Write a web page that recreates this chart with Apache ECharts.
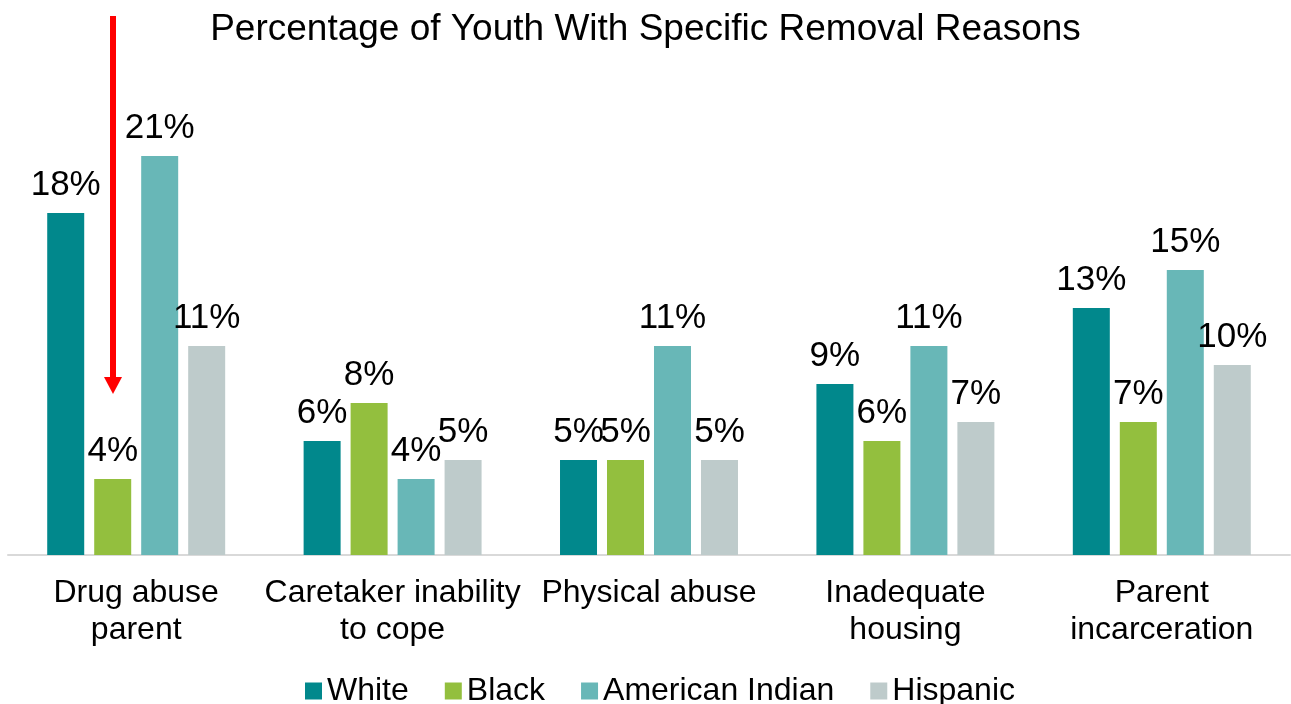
<!DOCTYPE html>
<html>
<head>
<meta charset="utf-8">
<script src="https://cdn.jsdelivr.net/npm/echarts@6/dist/echarts.min.js"></script>
<style>
  html, body { margin: 0; padding: 0; background: #fff; }
  #chart { width: 1291px; height: 704px; }
</style>
</head>
<body>
<div id="chart"></div>
<script>
  // categories and series (percent values)
  const categories = ['Drug abuse\nparent', 'Caretaker inability\nto cope', 'Physical abuse', 'Inadequate\nhousing', 'Parent\nincarceration'];
  const white = [18, 6, 5, 9, 13];
  const black = [4, 8, 5, 6, 7];
  const americanIndian = [21, 4, 11, 11, 15];
  const hispanic = [11, 5, 5, 7, 10];

  const seriesNames = ['White', 'Black', 'American Indian', 'Hispanic'];
  const seriesData = [white, black, americanIndian, hispanic];
  const colors = ['#01888C', '#93BF3E', '#68B7B7', '#BECBCB'];

  const font = 'Liberation Sans, Arial, sans-serif';

  let myChart = echarts.init(document.getElementById('chart'));
  let option = {
    animation: false,
    color: colors,
    textStyle: { fontFamily: font },
    title: {
      text: 'Percentage of Youth With Specific Removal Reasons',
      left: 'center',
      top: 6,
      textStyle: { fontSize: 37, fontWeight: 'normal', color: '#000', fontFamily: font }
    },
    legend: {
      data: seriesNames,
      left: 300,
      top: 668,
      icon: 'rect',
      itemWidth: 17,
      itemHeight: 17,
      itemGap: 36,
      textStyle: { fontSize: 32, color: '#000', lineHeight: 36, fontFamily: font }
    },
    grid: {
      left: 8,
      right: 1,
      top: 80,
      bottom: 149,
      containLabel: false
    },
    xAxis: {
      type: 'category',
      data: categories,
      axisLine: { lineStyle: { color: '#D9D9D9', width: 2 } },
      axisTick: { show: false },
      axisLabel: {
        interval: 0,
        margin: 20,
        fontSize: 32,
        lineHeight: 37,
        color: '#000',
        fontFamily: font
      }
    },
    yAxis: {
      type: 'value',
      min: 0,
      max: 25,
      show: false,
      splitLine: { show: false }
    },
    series: seriesNames.map((name, i) => ({
      name: name,
      type: 'bar',
      data: seriesData[i],
      barWidth: 37,
      barGap: '27%',
      itemStyle: { color: colors[i] },
      label: {
        show: true,
        position: 'top',
        distance: 10,
        fontSize: 35,
        color: '#000',
        fontFamily: font,
        formatter: p => p.value + '%'
      }
    })),
    // red annotation arrow
    graphic: [
      {
        type: 'line',
        shape: { x1: 113, y1: 16, x2: 113, y2: 380 },
        style: { stroke: '#FF0000', lineWidth: 6 }
      },
      {
        type: 'polygon',
        shape: { points: [[104, 377], [122, 377], [113, 394]] },
        style: { fill: '#FF0000' }
      }
    ]
  };
  myChart.setOption(option);
</script>
</body>
</html>
